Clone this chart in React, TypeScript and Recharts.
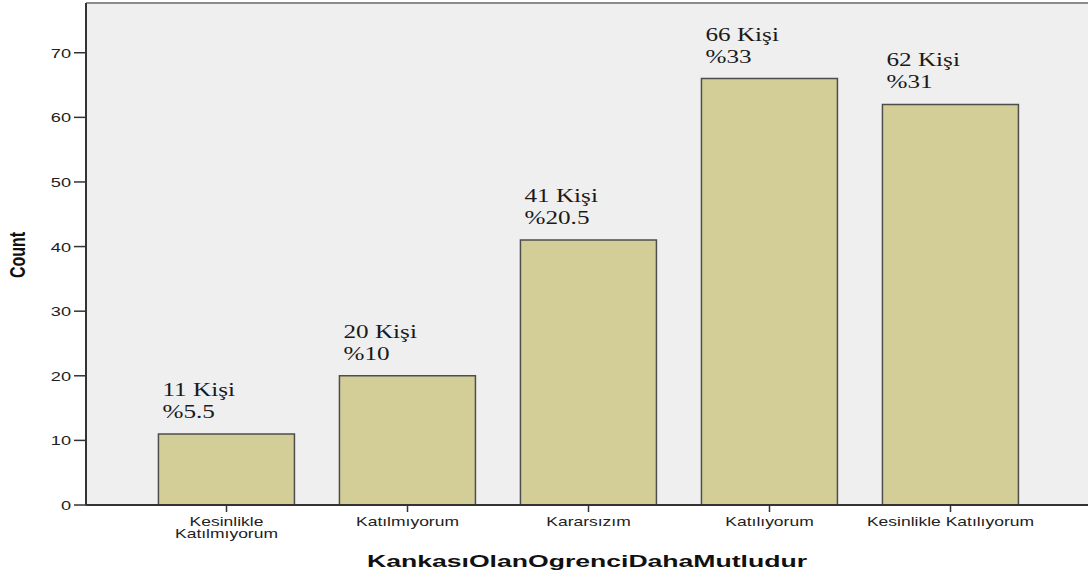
import { Bar, BarChart, CartesianGrid, LabelList, ReferenceLine, XAxis, YAxis } from 'recharts';

const categories = ['Kesinlikle Katılmıyorum', 'Katılmıyorum', 'Kararsızım', 'Katılıyorum', 'Kesinlikle Katılıyorum'];
const tickLines = [['Kesinlikle', 'Katılmıyorum'], ['Katılmıyorum'], ['Kararsızım'], ['Katılıyorum'], ['Kesinlikle Katılıyorum']];
const counts = [11, 20, 41, 66, 62];
const percents = ['5.5', '10', '20.5', '33', '31'];
const yTicks = [0, 10, 20, 30, 40, 50, 60, 70];
const Y_MAX = 77.7;

const data = categories.map((name, i) => ({ name, count: counts[i], pct: percents[i] }));

const SANS = '"Liberation Sans", Arial, sans-serif';
const SERIF = '"Liberation Serif", "Times New Roman", serif';
const STRETCH = 1.4;

// the reference is squashed horizontally, so stretch every text a bit
function Stretch({ x, y, anchor = 'start', children, ...rest }: any) {
  return (
    <g transform={`translate(${x},${y}) scale(${STRETCH},1)`}>
      <text x={0} y={0} textAnchor={anchor} {...rest}>
        {children}
      </text>
    </g>
  );
}

function XTick({ x, y, index }: any) {
  const lines = tickLines[index] || [];
  return (
    <g>
      {lines.map((t, i) => (
        <Stretch key={i} x={x} y={y + 12 + i * 12} anchor="middle" fontFamily={SANS} fontSize={12.5} fill="#222">
          {t}
        </Stretch>
      ))}
    </g>
  );
}

function YTick({ x, y, payload }: any) {
  return (
    <Stretch x={x - 1} y={y + 5} anchor="end" fontFamily={SANS} fontSize={13} fill="#222">
      {payload.value}
    </Stretch>
  );
}

function BarLabel({ x, y, index }: any) {
  return (
    <g>
      <Stretch x={x + 4} y={y - 38} fontFamily={SERIF} fontSize={18} fill="#1a1a1a">
        {`${counts[index]} Kişi`}
      </Stretch>
      <Stretch x={x + 4} y={y - 16} fontFamily={SERIF} fontSize={18} fill="#1a1a1a">
        {`%${percents[index]}`}
      </Stretch>
    </g>
  );
}

export default function App() {
  return (
    <div style={{ position: 'absolute', left: 0, top: 0, background: '#fff' }}>
      <BarChart
        width={1088}
        height={579}
        data={data}
        margin={{ top: 3, right: 0, left: 0, bottom: 0 }}
        barCategoryGap="12.4%"
      >
        <CartesianGrid horizontal={false} vertical={false} fill="#efefef" />
        <ReferenceLine y={Y_MAX} stroke="#8c8c8c" strokeWidth={2} />
        <XAxis
          dataKey="name"
          height={74}
          padding={{ left: 50, right: 47 }}
          axisLine={{ stroke: '#333', strokeWidth: 2 }}
          tickLine={{ stroke: '#333', strokeWidth: 1.5 }}
          tickSize={7}
          tick={<XTick />}
          interval={0}
          label={{
            content: ({ viewBox }: any) => (
              <text
                x={viewBox.x + viewBox.width / 2}
                y={567}
                textAnchor="middle"
                fontFamily={SANS}
                fontSize={17}
                fontWeight="bold"
                fill="#111"
                textLength={440}
                lengthAdjust="spacingAndGlyphs"
              >
                KankasıOlanOgrenciDahaMutludur
              </text>
            ),
          }}
        />
        <YAxis
          width={86}
          domain={[0, Y_MAX]}
          ticks={yTicks}
          axisLine={{ stroke: '#333', strokeWidth: 2 }}
          tickLine={{ stroke: '#333', strokeWidth: 1.5 }}
          tickSize={12}
          tick={<YTick />}
          label={{
            content: () => (
              <g transform={`translate(25,255) scale(${STRETCH},1) rotate(-90)`}>
                <text x={0} y={0} textAnchor="middle" fontFamily={SANS} fontSize={16} fontWeight="bold" fill="#111">
                  Count
                </text>
              </g>
            ),
          }}
        />
        <Bar dataKey="count" fill="#d3ce98" stroke="#4d4d4d" strokeWidth={1.5} isAnimationActive={false}>
          <LabelList dataKey="count" content={<BarLabel />} />
        </Bar>
      </BarChart>
    </div>
  );
}
